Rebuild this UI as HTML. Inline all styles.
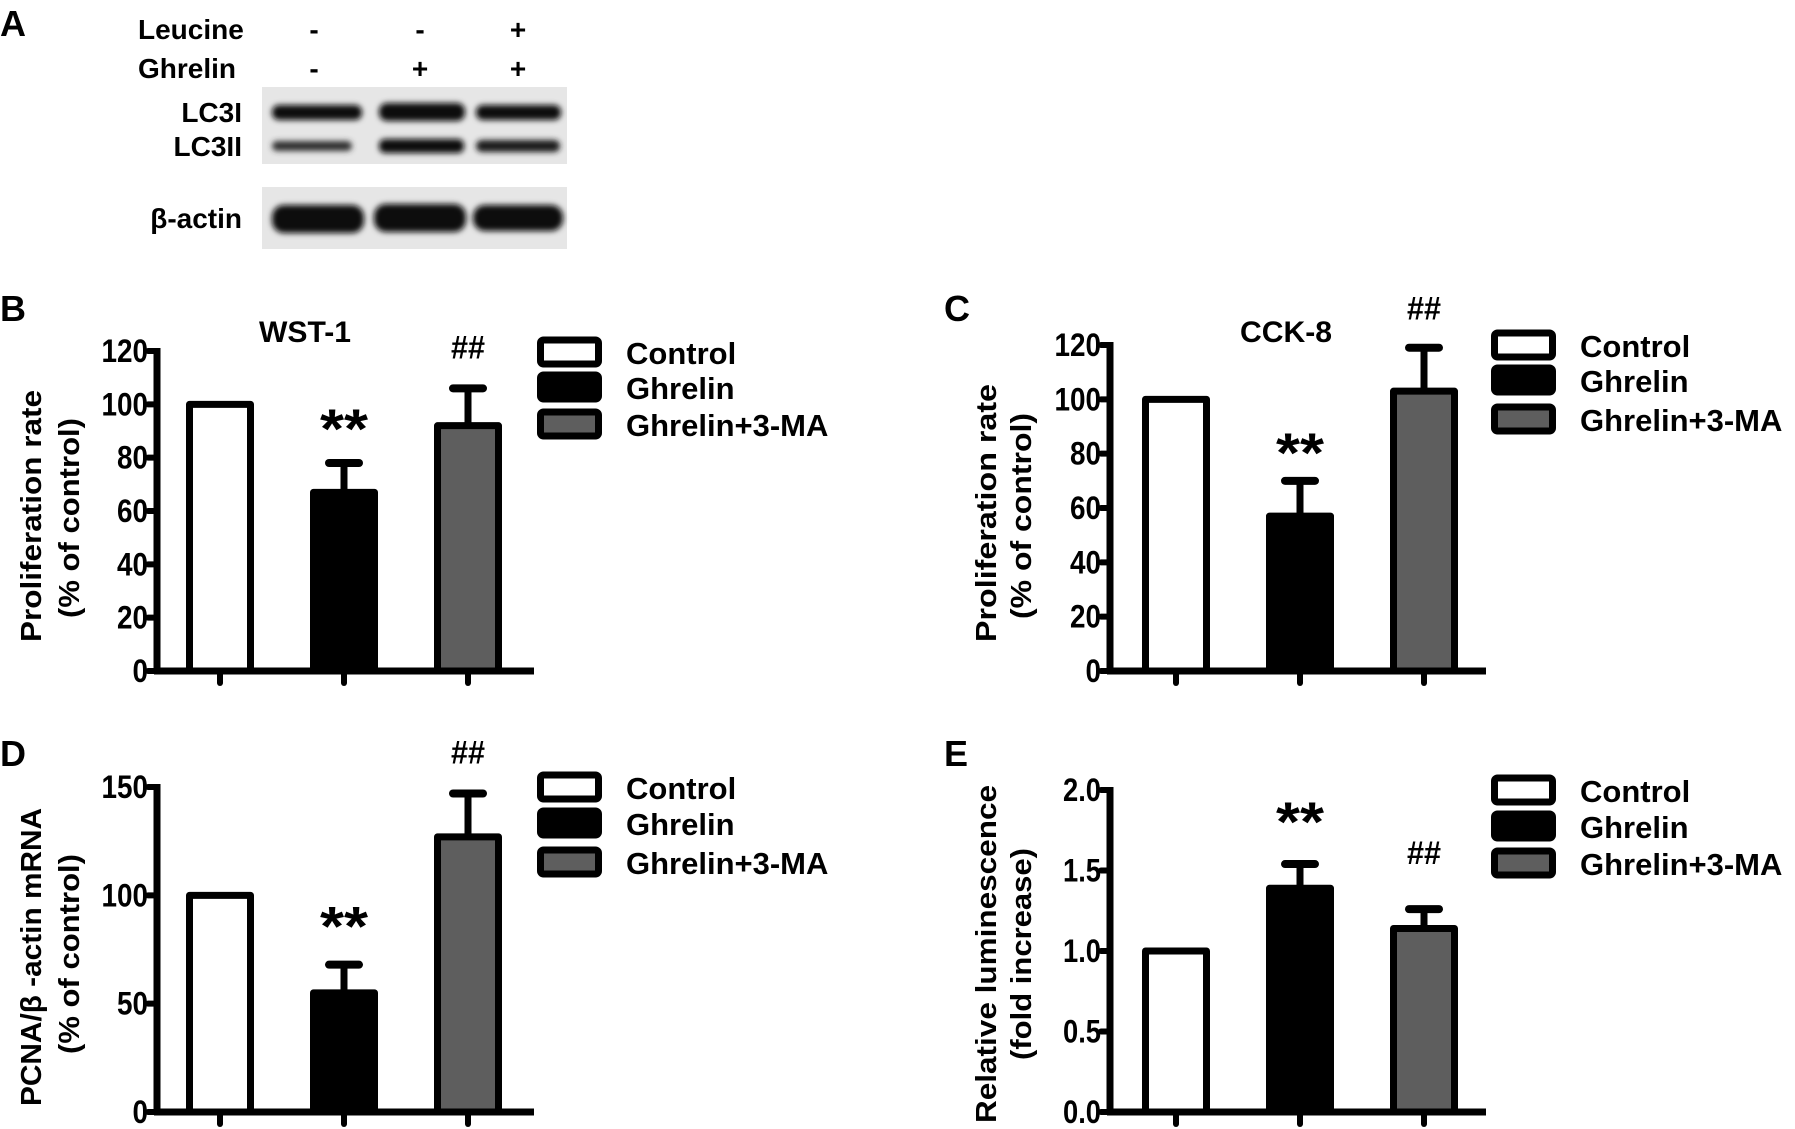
<!DOCTYPE html>
<html><head><meta charset="utf-8">
<style>
html,body{margin:0;padding:0;background:#fff;}
svg{display:block;}
text{font-family:"Liberation Sans",Arial,sans-serif;font-weight:bold;fill:#000;}
</style></head>
<body>
<svg id="fig" width="1795" height="1129" viewBox="0 0 1795 1129" xmlns="http://www.w3.org/2000/svg">
<defs>
<filter id="blur" x="-20%" y="-50%" width="140%" height="200%"><feGaussianBlur stdDeviation="3"/></filter>
</defs>
<g>
<text x="0" y="36" font-size="36">A</text>
<text x="138" y="39" font-size="28">Leucine</text>
<text x="138" y="78" font-size="28">Ghrelin</text>
<text x="314" y="39" font-size="28" text-anchor="middle">-</text>
<text x="420" y="39" font-size="28" text-anchor="middle">-</text>
<text x="518" y="39" font-size="28" text-anchor="middle">+</text>
<text x="314" y="78" font-size="28" text-anchor="middle">-</text>
<text x="420" y="78" font-size="28" text-anchor="middle">+</text>
<text x="518" y="78" font-size="28" text-anchor="middle">+</text>
<text x="242" y="122" font-size="28" text-anchor="end">LC3I</text>
<text x="242" y="156" font-size="28" text-anchor="end">LC3II</text>
<text x="242" y="228" font-size="28" text-anchor="end">β-actin</text>
<rect x="262" y="87" width="305" height="77" fill="#e6e6e6"/>
<rect x="262" y="187" width="305" height="62" fill="#e6e6e6"/>
<g filter="url(#blur)">
<rect x="272" y="105" width="90" height="15" rx="7" fill="#111"/>
<rect x="379" y="103" width="86" height="18" rx="8" fill="#111"/>
<rect x="476" y="105" width="85" height="15" rx="7" fill="#111"/>
<rect x="272" y="141" width="80" height="10" rx="5" fill="#333"/>
<rect x="379" y="139" width="85" height="14" rx="6" fill="#111"/>
<rect x="476" y="140" width="84" height="12" rx="6" fill="#1a1a1a"/>
<rect x="272" y="205" width="92" height="28" rx="12" fill="#0a0a0a"/>
<rect x="374" y="204" width="92" height="28" rx="12" fill="#0a0a0a"/>
<rect x="473" y="205" width="90" height="26" rx="12" fill="#0a0a0a"/>
</g>
</g>
<g id="charts"></g>
</svg>
<script>
const categories = ["Control", "Ghrelin", "Ghrelin+3-MA"];
const bMeans = [100, 67, 92];
const bErrors = [0, 11, 14];
const bTicks = [0, 20, 40, 60, 80, 100, 120];
const bMarks = ["", "**", "##"];
const cMeans = [100, 57, 103];
const cErrors = [0, 13, 16];
const cTicks = [0, 20, 40, 60, 80, 100, 120];
const cMarks = ["", "**", "##"];
const dMeans = [100, 55, 127];
const dErrors = [0, 13, 20];
const dTicks = [0, 50, 100, 150];
const dMarks = ["", "**", "##"];
const eMeans = [1.0, 1.39, 1.14];
const eErrors = [0, 0.15, 0.12];
const eTicks = [0.0, 0.5, 1.0, 1.5, 2.0];
const eTickLabels = ["0.0", "0.5", "1.0", "1.5", "2.0"];
const eMarks = ["", "**", "##"];

const NS = "http://www.w3.org/2000/svg";
const root = document.getElementById("charts");
const fills = ["#ffffff", "#000000", "#5e5e5e"];

function mk(tag, attrs, parent) {
  const el = document.createElementNS(NS, tag);
  for (const k in attrs) el.setAttribute(k, attrs[k]);
  parent.appendChild(el);
  return el;
}
function txt(parent, x, y, s, size, anchor, extra) {
  const t = mk("text", Object.assign({x: x, y: y, "font-size": size, "text-anchor": anchor || "start"}, extra || {}), parent);
  t.textContent = s;
  return t;
}

function drawChart(cfg) {
  const g = mk("g", {}, root);
  
  
  const ymax = cfg.ticks[cfg.ticks.length - 1];
  const yScale = v => cfg.y0 - (v / ymax) * (cfg.y0 - cfg.yTop);
  const xCenter = i => cfg.x0 + cfg.firstOffset + i * cfg.step;

  const pl = txt(g, cfg.labelX, cfg.labelY, cfg.letter, 36, "start");
  
  

  if (cfg.title) {
    const tt = txt(g, cfg.titleX, cfg.titleY, cfg.title, 30, "middle", {textLength: cfg.titleLen, lengthAdjust: "spacingAndGlyphs"});
    
    
  }

  cfg.means.forEach((v, i) => {
    const cx = xCenter(i), w = cfg.barW;
    const yTopBar = yScale(v);
    const r = mk("rect", {x: cx - w / 2 + 3.5, y: yTopBar, width: w - 7, height: cfg.y0 - yTopBar, fill: fills[i], stroke: "#000", "stroke-width": 7, "stroke-linejoin": "round"}, g);
    
    
    if (cfg.errs[i] > 0) {
      const ye = yScale(v + cfg.errs[i]);
      const l = mk("line", {x1: cx, x2: cx, y1: yTopBar, y2: ye, stroke: "#000", "stroke-width": 7}, g);
      
      
      const c = mk("line", {x1: cx - 15, x2: cx + 15, y1: ye, y2: ye, stroke: "#000", "stroke-width": 8, "stroke-linecap": "round"}, g);
      
      
    }
    const m = cfg.marks[i];
    if (m) {
      const isStar = m === "**";
      const my = isStar ? yScale(v + cfg.errs[i]) - cfg.starGap : yScale(v + cfg.errs[i]) - cfg.hashGap;
      const mt = isStar ? txt(g, cx, my + 10, m, 56, "middle", {textLength: 48, lengthAdjust: "spacingAndGlyphs"})
                        : txt(g, cx, my + 2, m, 32, "middle", {textLength: 34, lengthAdjust: "spacingAndGlyphs"});
      
      
    }
    const xt = mk("line", {x1: cx, x2: cx, y1: cfg.y0, y2: cfg.y0 + 12, stroke: "#000", "stroke-width": 6, "stroke-linecap": "round"}, g);
    
    
  });

  const ya = mk("line", {x1: cfg.x0, x2: cfg.x0, y1: cfg.yTop - 3, y2: cfg.y0 + 3, stroke: "#000", "stroke-width": 7}, g);
  
  
  const xa = mk("line", {x1: cfg.x0 - 3, x2: cfg.xEnd, y1: cfg.y0, y2: cfg.y0, stroke: "#000", "stroke-width": 7}, g);
  
  

  cfg.ticks.forEach((t, k) => {
    const y = yScale(t);
    const tl = mk("line", {x1: cfg.x0 - 9, x2: cfg.x0, y1: y, y2: y, stroke: "#000", "stroke-width": 6, "stroke-linecap": "round"}, g);
    
    
    const lab = cfg.tickLabels ? cfg.tickLabels[k] : String(t);
    const n = lab.replace('.', '').length, dots = lab.length - n;
    const tx = txt(g, cfg.x0 - 9, y + 11, lab, 32, "end", {textLength: n * 15.5 + dots * 7, lengthAdjust: "spacingAndGlyphs"});
    
    
  });

  cfg.yTitles.forEach(tl => {
    const t = txt(g, 0, 0, tl.s, 29, "middle", {transform: "translate(" + tl.x + "," + tl.cy + ") rotate(-90)", textLength: tl.len, lengthAdjust: "spacingAndGlyphs", dy: "10"});
    
    
  });

  categories.forEach((c, i) => {
    const cy = cfg.legY[i];
    const lb = mk("rect", {x: cfg.legX + 3.5, y: cy - 12, width: 58, height: 24, rx: 3, fill: fills[i], stroke: "#000", "stroke-width": 7}, g);
    
    
    const lt = txt(g, cfg.legX + 89, cy + 12, c, 31, "start");
    
    
  });
}

drawChart({name: "chart-b-wst1", letter: "B", labelX: 0, labelY: 321, title: "WST-1", titleX: 305, titleY: 342, titleLen: 92,
  x0: 157, xEnd: 534, y0: 671, yTop: 351, firstOffset: 63, step: 124, barW: 68,
  means: bMeans, errs: bErrors, ticks: bTicks, marks: bMarks, starGap: 25, hashGap: 32,
  yTitles: [{s: "Proliferation rate", x: 31, cy: 516, len: 252}, {s: "(% of control)", x: 69, cy: 518, len: 200}],
  legX: 537, legY: [352, 387, 424]});

drawChart({name: "chart-c-cck8", letter: "C", labelX: 944, labelY: 321, title: "CCK-8", titleX: 1286, titleY: 342, titleLen: 92,
  x0: 1110, xEnd: 1486, y0: 671, yTop: 345, firstOffset: 66, step: 124, barW: 68,
  means: cMeans, errs: cErrors, ticks: cTicks, marks: cMarks, starGap: 19, hashGap: 30,
  yTitles: [{s: "Proliferation rate", x: 986, cy: 513, len: 258}, {s: "(% of control)", x: 1021, cy: 516, len: 206}],
  legX: 1491, legY: [345, 380, 419]});

drawChart({name: "chart-d-pcna", letter: "D", labelX: 0, labelY: 766,
  x0: 157, xEnd: 534, y0: 1112, yTop: 787, firstOffset: 63, step: 124, barW: 68,
  means: dMeans, errs: dErrors, ticks: dTicks, marks: dMarks, starGap: 29, hashGap: 32,
  yTitles: [{s: "PCNA/β -actin mRNA", x: 31, cy: 957, len: 298}, {s: "(% of control)", x: 69, cy: 954, len: 200}],
  legX: 537, legY: [787, 823, 862]});

drawChart({name: "chart-e-luminescence", letter: "E", labelX: 944, labelY: 766,
  x0: 1110, xEnd: 1486, y0: 1112, yTop: 790, firstOffset: 66, step: 124, barW: 68,
  means: eMeans, errs: eErrors, ticks: eTicks, tickLabels: eTickLabels, marks: eMarks, starGap: 33, hashGap: 47,
  yTitles: [{s: "Relative luminescence", x: 986, cy: 954, len: 338}, {s: "(fold increase)", x: 1021, cy: 954, len: 212}],
  legX: 1491, legY: [790, 826, 863]});
</script>
</body></html>
